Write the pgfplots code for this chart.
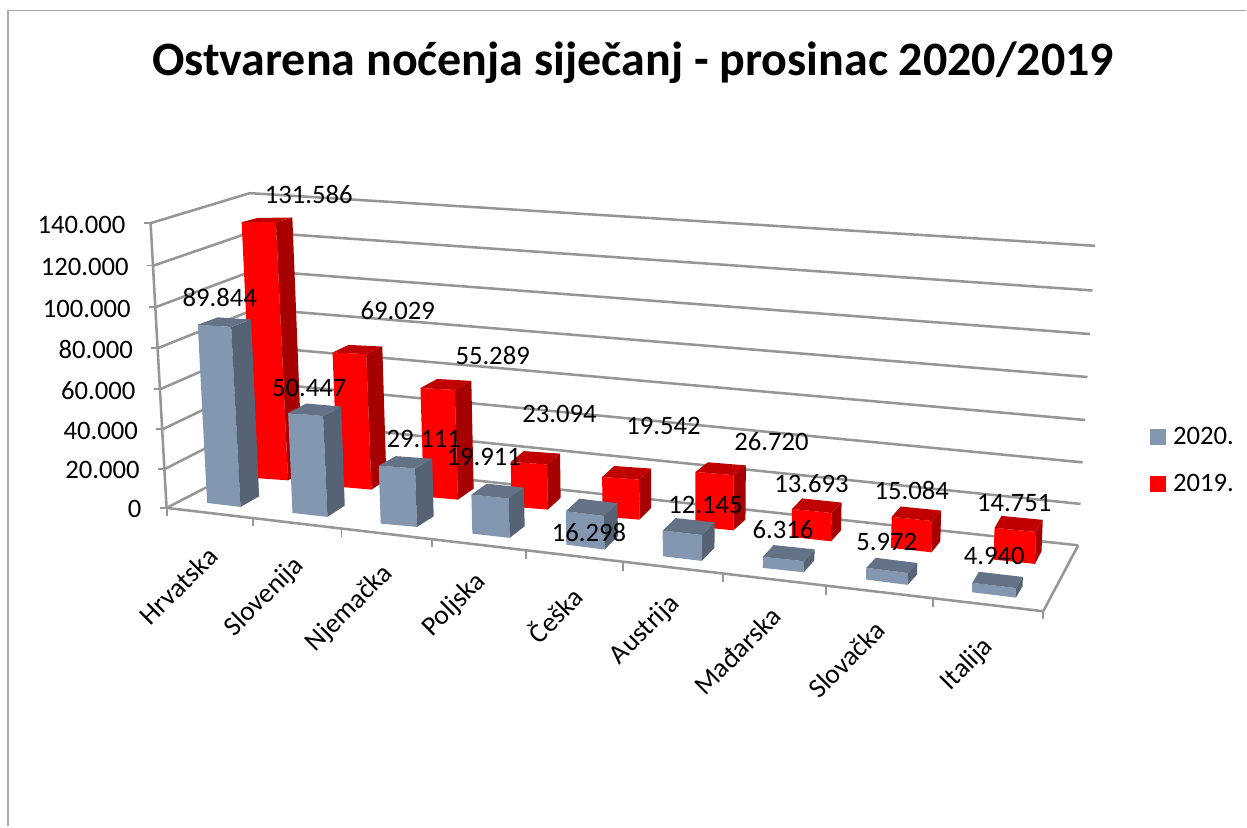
\documentclass[border=0pt]{standalone}
\usepackage{pgfplots}
\usepackage{fontspec}
\setmainfont{Carlito}
\pgfplotsset{compat=1.18}
\definecolor{gfront}{RGB}{132,151,176}
\definecolor{gside}{RGB}{85,99,117}
\definecolor{gtop}{RGB}{99,114,134}
\definecolor{rfront}{RGB}{255,0,0}
\definecolor{rside}{RGB}{166,0,0}
\definecolor{rtop}{RGB}{192,0,0}
\definecolor{gridc}{RGB}{150,150,150}
\definecolor{framec}{RGB}{170,170,170}
\newcommand\lab{\fontsize{20}{24}\selectfont}
\newcommand\cat{\fontsize{20.6}{24}\selectfont}
% one filled polygon through the axis
\newcommand\POLY[2]{\edef\tmp{\noexpand\addplot[fill=#1,draw=none,forget plot] coordinates {#2} -- cycle;}\tmp}
% prefix, value (thousands), px per thousand, front-left base, front-right base, side base
\newcommand\BAR[9]{%
  \pgfmathsetmacro\h{#2*#3}%
  \pgfmathsetmacro\ll{(#4-700)*0.0001*\h}%
  \pgfmathsetmacro\tlx{#4+\ll}\pgfmathsetmacro\tly{#5-\h}%
  \pgfmathsetmacro\trx{#6+\ll}\pgfmathsetmacro\try{#7-1.01*\h}%
  \pgfmathsetmacro\srx{#8+\ll+0.008*\h}\pgfmathsetmacro\sry{\try+#9-#7+0.018*\h}%
  \pgfmathsetmacro\bkx{\tlx+\srx-\trx}\pgfmathsetmacro\bky{\tly+\sry-\try}%
  \POLY{#1front}{(#4,#5)(#6,#7)(\trx,\try)(\tlx,\tly)}%
  \POLY{#1side}{(#6,#7)(#8,#9)(\srx,\sry)(\trx,\try)}%
  \POLY{#1top}{(\tlx,\tly)(\trx,\try)(\srx,\sry)(\bkx,\bky)}%
}
\newcommand\GL[6]{\addplot[gridc,line width=1.9pt,forget plot] coordinates {(#1,#2)(#3,#4)(#5,#6)};}
\newcommand\TK[2]{\addplot[gridc,line width=1.4pt,forget plot] coordinates {(#1,#2)(#1,{#2+8})};}
\newcommand\YT[3]{\addplot[gridc,line width=1.4pt,forget plot] coordinates {(#1,#2)({#1-7},#2)};\node[anchor=east,font=\lab,inner sep=0pt] at (axis cs:{#1-25},{#2+1.5}) {#3};}
\newcommand\LB[3]{\node[font=\lab,inner sep=0pt] at (axis cs:#1,#2) {#3};}
\newcommand\CT[3]{\node[font=\cat,inner sep=0pt,anchor=east,rotate=45] at (axis cs:#1,#2) {#3};}
\begin{document}
\begin{tikzpicture}
\begin{axis}[
  width=935.25pt,height=620.25pt,scale only axis,
  xmin=0,xmax=1247,ymin=0,ymax=827,y dir=reverse,
  axis lines=none,clip=false,
  legend style={at={(axis cs:1151,426)},anchor=north west,draw=none,fill=none,
    font=\lab,inner sep=0pt,row sep=19pt,nodes={inner ysep=1pt,inner xsep=5.5pt}},
  legend cell align=left,
]
\addlegendimage{legend image code/.code={\fill[gfront] (0pt,-5.6pt) rectangle (11.2pt,5.6pt);}}
\addlegendimage{legend image code/.code={\fill[rfront] (0pt,-5.6pt) rectangle (11.2pt,5.6pt);}}
\legend{2020.,2019.}
% page extent and frame
\addplot[draw=none,forget plot] coordinates {(0,0)(1247,827)};
\addplot[framec,line width=1.4pt,forget plot] coordinates {(8,827)(8,10.5)(1247,10.5)};
% walls and gridlines
\GL{150.7}{223.3}{250}{193.3}{1096}{246}
\GL{154}{265.7}{252}{232}{1093.3}{290.7}
\GL{156}{307.3}{254}{270.6}{1091}{334.3}
\GL{158.3}{348.3}{256}{309}{1088.3}{377.3}
\GL{160.7}{389.3}{258}{347}{1086}{420.3}
\GL{163.3}{429.3}{260}{383}{1083.3}{462.7}
\GL{165}{469.3}{262}{420}{1081.3}{504.3}
\GL{166.7}{508.3}{264}{458}{1079}{545.7}
\addplot[gridc,line width=1.9pt,forget plot] coordinates {(150.7,223.3)(166.7,508.3)};
\addplot[gridc,line width=1.9pt,forget plot] coordinates {(166.7,508.3)(1044,611.7)(1079,545.7)};
% y axis ticks and labels
\YT{150.7}{223.3}{140.000}
\YT{154}{265.7}{120.000}
\YT{156}{307.3}{100.000}
\YT{158.3}{348.3}{80.000}
\YT{160.7}{389.3}{60.000}
\YT{163.3}{429.3}{40.000}
\YT{165}{469.3}{20.000}
\YT{166.7}{508.3}{0}
% category ticks
\TK{166.7}{508.3}\TK{253.3}{518.5}\TK{341.7}{529}\TK{432.7}{539.7}\TK{526.7}{551.5}
\TK{623.3}{563}\TK{723.3}{574.6}\TK{826.7}{587}\TK{933.3}{599}\TK{1044}{611.7}
% 2019 bars (thousands of nights)
\BAR{r}{131.586}{1.945}{254}{478.3}{288.3}{480.7}{302.7}{471.7}
\BAR{r}{69.029}{1.945}{338}{487}{371.7}{490}{386.7}{480}
\BAR{r}{55.289}{1.966}{424}{497}{458.3}{500}{474}{489}
\BAR{r}{23.094}{1.936}{512}{507}{548.3}{510}{561}{498.3}
\BAR{r}{19.542}{2.03}{603}{517}{640}{520}{651.7}{508.3}
\BAR{r}{26.720}{2.047}{696}{527}{734}{530.7}{746}{520}
\BAR{r}{13.693}{2.045}{792.3}{537.3}{831.7}{541.7}{841.7}{530.7}
\BAR{r}{15.084}{2.055}{891.7}{548.3}{932.3}{552.7}{941}{541.7}
\BAR{r}{14.751}{2.149}{994.3}{560}{1035.7}{564.3}{1042.3}{551.7}
% 2020 bars
\BAR{g}{89.844}{1.985}{207.3}{503.3}{240.7}{507.3}{259.3}{496.7}
\BAR{g}{50.447}{1.982}{292.7}{513.3}{327.7}{517.3}{345}{506}
\BAR{g}{29.111}{1.992}{381}{524}{417.3}{527.3}{434}{516.7}
\BAR{g}{19.911}{1.959}{472.7}{534}{510}{538.3}{525}{526.7}
\BAR{g}{16.298}{2.043}{566.7}{545}{605}{550}{618.3}{536.7}
\BAR{g}{12.145}{2.116}{663.3}{556.7}{702.3}{561.3}{715}{548.3}
\BAR{g}{6.316}{1.742}{763.3}{568.3}{804.3}{572.7}{815}{560.7}
\BAR{g}{5.972}{1.96}{866.7}{580}{908.3}{585.3}{917.7}{575}
\BAR{g}{4.940}{1.90}{972.7}{592.7}{1016.7}{598}{1023.3}{586.7}
% data labels
\LB{309}{195}{131.586}
\LB{398}{311}{69.029}
\LB{493}{356}{55.289}
\LB{560}{414}{23.094}
\LB{664}{426}{19.542}
\LB{772}{442}{26.720}
\LB{812}{484}{13.693}
\LB{912.5}{491}{15.084}
\LB{1015}{503}{14.751}
\LB{220}{298}{89.844}
\LB{309.5}{388}{50.447}
\LB{424}{439}{29.111}
\LB{484}{457}{19.911}
\LB{589.5}{533}{16.298}
\LB{706}{505}{12.145}
\LB{783.5}{530}{6.316}
\LB{887.5}{542}{5.972}
\LB{995}{556}{4.940}
% category labels
\CT{213}{552}{Hrvatska}
\CT{300}{562}{Slovenija}
\CT{389}{570}{Njemačka}
\CT{482}{578}{Poljska}
\CT{578}{592}{Češka}
\CT{676}{600}{Austrija}
\CT{777}{612}{Mađarska}
\CT{881}{626}{Slovačka}
\CT{990}{643}{Italija}
% title
\node[font=\fontsize{36}{42}\selectfont\bfseries,inner sep=0pt] at (axis cs:633.5,63) {Ostvarena noćenja siječanj - prosinac 2020/2019};
\end{axis}
\end{tikzpicture}
\end{document}
